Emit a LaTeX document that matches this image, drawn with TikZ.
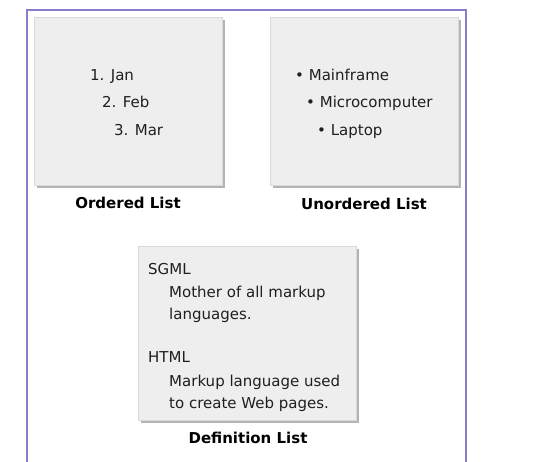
\documentclass[tikz,border=0pt]{standalone}
\usepackage{fontspec}
\setmainfont{DejaVu Sans}
\definecolor{framepurple}{HTML}{8A7CCB}
\definecolor{panelfill}{HTML}{EEEEEE}
\definecolor{paneledge}{HTML}{DADADA}
\definecolor{panelshadow}{HTML}{B4B4B4}
\usetikzlibrary{shadows}
\tikzset{
  panel/.style={fill=panelfill, draw=paneledge, line width=1pt,
    drop shadow={shadow xshift=2.5pt, shadow yshift=-2.5pt, fill=panelshadow, opacity=1}},
  itemtext/.style={anchor=base west, inner sep=0pt, font=\fontsize{15}{18}\selectfont, text=black!88},
  caption/.style={anchor=base, inner sep=0pt, font=\fontsize{15}{18}\selectfont\bfseries, text=black}
}
\begin{document}
\begin{tikzpicture}[x=1pt,y=-1pt]
\useasboundingbox (0,0) rectangle (538,461);
\fill[white] (0,0) rectangle (538,461);
% outer frame, open at the bottom
\draw[framepurple, line width=2pt] (27,470) -- (27,10) -- (466,10) -- (466,470);

% panels
\node[panel, minimum width=188pt, minimum height=168pt, anchor=north west, inner sep=0pt] (ol) at (34,17) {};
\node[panel, minimum width=188pt, minimum height=168pt, anchor=north west, inner sep=0pt] (ul) at (270,17) {};
\node[panel, minimum width=218pt, minimum height=174pt, anchor=north west, inner sep=0pt] (dl) at (138,246) {};

% ordered list
\node[itemtext] (o1) at (90,80) {1. Jan};
\node[itemtext] (o2) at (102,107) {2. Feb};
\node[itemtext] (o3) at (114,135) {3. Mar};
\node[caption] (olcap) at (128,208) {Ordered List};

% unordered list
\node[itemtext] (u1) at (295,80) {• Mainframe};
\node[itemtext] (u2) at (306,107) {• Microcomputer};
\node[itemtext] (u3) at (317,135) {• Laptop};
\node[caption] (ulcap) at (364,209) {Unordered List};

% definition list
\node[itemtext] (d1) at (148,274) {SGML};
\node[itemtext] (d2) at (169,297) {Mother of all markup};
\node[itemtext] (d3) at (169,319) {languages.};
\node[itemtext] (d4) at (148,362) {HTML};
\node[itemtext] (d5) at (169,386) {Markup language used};
\node[itemtext] (d6) at (169,408) {to create Web pages.};
\node[caption] (dlcap) at (248,443) {Definition List};
\end{tikzpicture}
\end{document}
